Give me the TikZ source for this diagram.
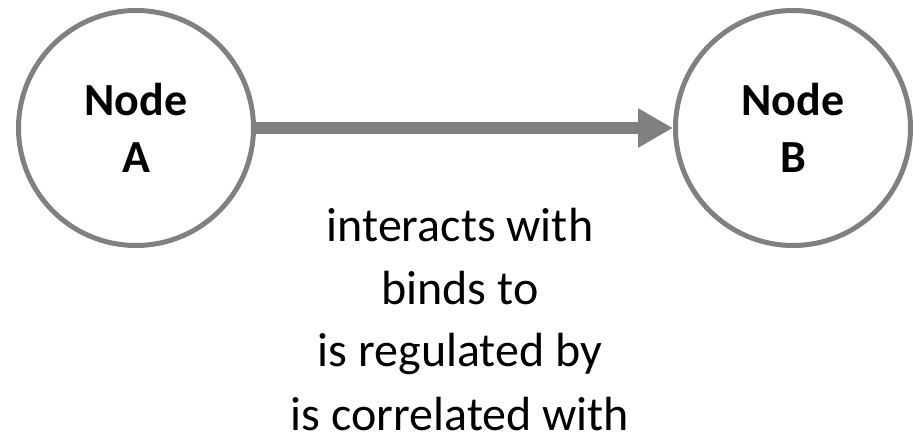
\documentclass[tikz,border=0pt]{standalone}
\usepackage{fontspec}
\setmainfont{Carlito}
\usetikzlibrary{arrows.meta}
\definecolor{edgegray}{RGB}{128,128,128}
\begin{document}
\begin{tikzpicture}[x=1pt,y=1pt,
  entity/.style={circle, draw=edgegray, line width=5pt, fill=white,
    minimum size=235pt, inner sep=0pt, align=center,
    font=\fontsize{46}{57}\selectfont\bfseries},
  relation/.style={draw=edgegray, line width=12.5pt,
    -{Triangle[length=35pt,width=37pt]}},
  caption/.style={align=center, inner sep=0pt,
    font=\fontsize{48}{63}\selectfont}]
  \useasboundingbox (0,0) rectangle (913,-435);
  \node[entity] (a) at (136,-128) {Node\\A};
  \node[entity] (b) at (793,-128) {Node\\B};
  \draw[relation] (a.east) -- (b.west);
  % the base anchor of a multi-line node sits on its last line
  \node[caption, anchor=base] (types) at (460,-430)
    {interacts with\\binds to\\is regulated by\\is correlated with};
\end{tikzpicture}
\end{document}
